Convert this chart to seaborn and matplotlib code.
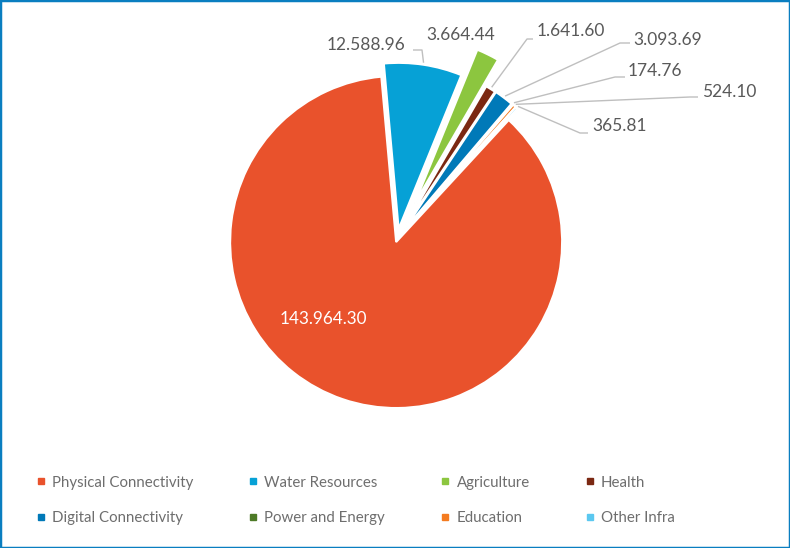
import numpy as np
import matplotlib
matplotlib.use("Agg")
import matplotlib.pyplot as plt
from matplotlib.patches import Rectangle
from matplotlib.lines import Line2D
import seaborn as sns

# datos del grafico
sectores = ['Physical Connectivity', 'Water Resources', 'Agriculture', 'Health',
            'Digital Connectivity', 'Power and Energy', 'Education', 'Other Infra']
valores = [143964.30, 12588.96, 3664.44, 1641.60, 3093.69, 174.76, 524.10, 365.81]
etiquetas = ['143.964.30', '12.588.96', '3.664.44', '1.641.60',
             '3.093.69', '174.76', '524.10', '365.81']
colores = ['#E9522C', '#06A1D6', '#8CC63F', '#7B2812',
           '#0079B8', '#4D7A27', '#F47B20', '#5BC8F0']
separacion = [0.018, 0.063, 0.24, 0.066, 0.068, 0.07, 0.07, 0.07]

sns.set_style('white')
plt.rcParams['font.family'] = ['Lato', 'DejaVu Sans']

W, H = 790, 548
fig = plt.figure(figsize=(W / 100, H / 100), dpi=100)
ax = fig.add_axes([0, 0, 1, 1])

# centro y radio en pixeles (y hacia arriba)
cx, cy, R = 397.1, H - 239.2, 166
wedges, _ = ax.pie(valores, colors=colores, startangle=47.3, counterclock=False,
                   explode=[s * R for s in separacion], radius=R, center=(cx, cy),
                   wedgeprops=dict(edgecolor='white', linewidth=1.5))
ax.set_xlim(0, W)
ax.set_ylim(0, H)
ax.set_aspect('equal')
ax.axis('off')

gris = '#595959'
linea = '#BFBFBF'

def sy(y):
    return H - y

# punto de anclaje de cada porcion (borde exterior)
def ancla(w, extra=2):
    ang = np.deg2rad((w.theta1 + w.theta2) / 2)
    x0, y0 = w.center
    r = w.r + extra
    return x0 + r * np.cos(ang), y0 + r * np.sin(ang)

# etiqueta central
ax.text(323, sy(319), etiquetas[0], color='white', fontsize=12.3,
        ha='center', va='center')

# posiciones de etiquetas externas (x, y, ha, codo)
layout = {
    1: (366, 45, 'center', [(413, 50), (422, 50)]),
    2: (461, 35, 'center', None),
    3: (537, 31, 'left', [(533, 39), (527, 39)]),
    4: (633, 40, 'left', [(630, 43), (620, 43)]),
    5: (628, 71, 'left', [(625, 77), (615, 77)]),
    6: (702, 92, 'left', [(698, 97), (690, 97)]),
    7: (592, 126, 'left', [(588, 133), (580, 133)]),
}

for i, (tx, ty, ha, codo) in layout.items():
    ax.text(tx, sy(ty), etiquetas[i], color=gris, fontsize=12.5, ha=ha, va='center')
    if codo:
        ax_, ay_ = ancla(wedges[i])
        xs = [p[0] for p in codo] + [ax_]
        ys = [sy(p[1]) for p in codo] + [ay_]
        ax.plot(xs, ys, color=linea, lw=1, solid_capstyle='butt')

# leyenda (orden por filas)
handles = [Line2D([0], [0], marker='s', linestyle='none', markersize=5,
                  markerfacecolor=c, markeredgecolor=c) for c in colores]
orden = [0, 4, 1, 5, 2, 6, 3, 7]
leg = fig.legend([handles[k] for k in orden], [sectores[k] for k in orden],
                 loc='center', bbox_to_anchor=(0.449, 1 - 500.5 / H),
                 ncol=4, frameon=False, fontsize=10.8, labelcolor='#6E6E6E',
                 handletextpad=0.35, columnspacing=3.6, labelspacing=1.45,
                 handlelength=0.8)

# borde de la figura
fig.patches.append(Rectangle((0, 0), 1, 1, transform=fig.transFigure,
                             fill=False, edgecolor='#0A7EC0', linewidth=2.5))

fig.savefig('out.png', dpi=100)
